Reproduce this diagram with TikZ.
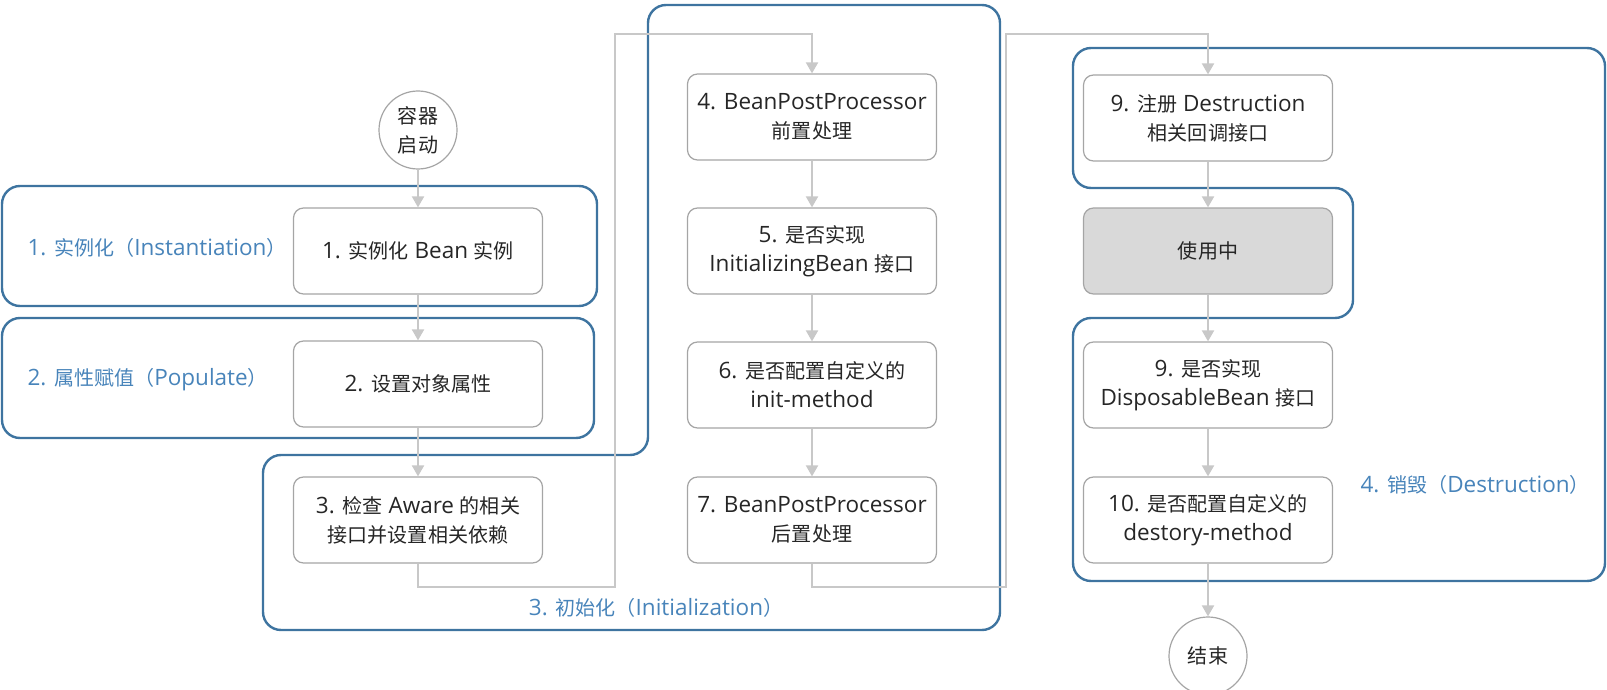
\documentclass[tikz,border=0pt]{standalone}
\usepackage{fontspec}
\setmainfont{Open Sans}
\newfontfamily\cjk{Noto Sans CJK SC}[Scale=0.89]
\newcommand{\zh}[1]{{\cjk #1}}
\usetikzlibrary{arrows.meta}
\definecolor{grpblue}{RGB}{62,116,160}
\definecolor{lblblue}{RGB}{72,132,186}
\definecolor{boxgray}{RGB}{165,165,165}
\definecolor{flowgray}{RGB}{200,200,200}
\definecolor{usegray}{RGB}{217,217,217}
\definecolor{txtgray}{RGB}{38,38,38}
\begin{document}
\begin{tikzpicture}[x=1pt,y=-1pt,
    font=\fontsize{22.5}{29}\selectfont,
    box/.style={draw=boxgray, line width=1.2pt, rounded corners=10pt, fill=white,
        minimum width=249pt, minimum height=86pt, align=center, text=txtgray},
    endpt/.style={circle, draw=boxgray, line width=1.2pt, fill=white,
        minimum size=78pt, inner sep=0pt, align=center, text=txtgray},
    grp/.style={draw=grpblue, line width=2.4pt, rounded corners=18pt},
    grplabel/.style={text=lblblue, anchor=west},
    flow/.style={draw=flowgray, line width=2pt, -{Triangle[width=12pt,length=11pt]}}]
    \useasboundingbox (0,0) rectangle (1607,690);
    \draw[grp] (2,186) rectangle (597,306);
    \draw[grp] (2,318) rectangle (594,438);
    \draw[grp] (648,5) -- (1000,5) -- (1000,630) -- (263,630) -- (263,455) -- (648,455) -- cycle;
    \draw[grp] (1073,48) -- (1605,48) -- (1605,581) -- (1073,581) -- (1073,318)
        -- (1353,318) -- (1353,188) -- (1073,188) -- cycle;
    \node[endpt] (start) at (418,130) {\zh{容器}\\\zh{启动}};
    \node[box] (b1) at (418,251) {1. \zh{实例化} Bean \zh{实例}};
    \node[box] (b2) at (418,384) {2. \zh{设置对象属性}};
    \node[box] (b3) at (418,520) {3. \zh{检查} Aware \zh{的相关}\\\zh{接口并设置相关依赖}};
    \node[box] (b4) at (812,117) {4. BeanPostProcessor\\\zh{前置处理}};
    \node[box] (b5) at (812,251) {5. \zh{是否实现}\\InitializingBean \zh{接口}};
    \node[box] (b6) at (812,385) {6. \zh{是否配置自定义的}\\init-method};
    \node[box] (b7) at (812,520) {7. BeanPostProcessor\\\zh{后置处理}};
    \node[box] (b9) at (1208,118) {9. \zh{注册} Destruction\\\zh{相关回调接口}};
    \node[box, fill=usegray] (inuse) at (1208,251) {\zh{使用中}};
    \node[box] (b9d) at (1208,385) {9. \zh{是否实现}\\DisposableBean \zh{接口}};
    \node[box] (b10) at (1208,520) {10. \zh{是否配置自定义的}\\destory-method};
    \node[endpt] (stop) at (1208,656) {\zh{结束}};
    \node[grplabel] (l1) at (24,248) {1. \zh{实例化（}Instantiation\zh{）}};
    \node[grplabel] (l2) at (24,380) {2. \zh{属性赋值（}Populate\zh{）}};
    \node[grplabel, anchor=center] (l3) at (656,608) {3. \zh{初始化（}Initialization\zh{）}};
    \node[grplabel] (l4) at (1357,485) {4. \zh{销毁（}Destruction\zh{）}};
    \foreach \a/\b in {start/b1,b1/b2,b2/b3,b4/b5,b5/b6,b6/b7,b9/inuse,inuse/b9d,b9d/b10,b10/stop} {
        \draw[flow] (\a) -- (\b);
    }
    \draw[flow] (b3.south) -- ++(0,23) -| ++(197,-553) -| (b4.north);
    \draw[flow] (b7.south) -- ++(0,23) -| ++(194,-553) -| (b9.north);
\end{tikzpicture}
\end{document}
